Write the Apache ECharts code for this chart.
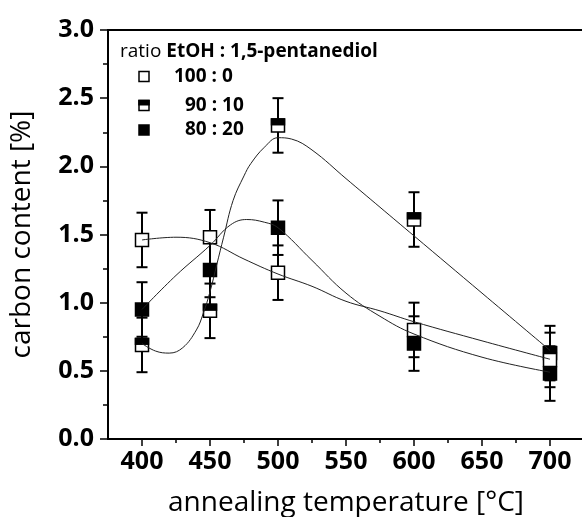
<!DOCTYPE html>
<html><head><meta charset="utf-8">
<script src="https://cdn.jsdelivr.net/npm/echarts@6/dist/echarts.min.js"></script>
<style>html,body{margin:0;padding:0;background:#fff}#c{width:582px;height:517px}</style>
</head><body><div id="c"></div>
<script>
// ---- data ----
const temperatures = [400, 450, 500, 600, 700];
const carbon100_0 = [1.46, 1.48, 1.22, 0.80, 0.58];
const carbon90_10 = [0.69, 0.94, 2.30, 1.61, 0.63];
const carbon80_20 = [0.95, 1.24, 1.55, 0.70, 0.48];
const err100_0 = [0.20, 0.20, 0.20, 0.20, 0.20];
const err90_10 = [0.20, 0.20, 0.20, 0.20, 0.20];
const err80_20 = [0.20, 0.20, 0.20, 0.20, 0.20];

const fitT100_0 = [400, 425, 450, 475, 500, 525, 550, 575, 600, 650, 700];
const fitV100_0 = [1.46, 1.48, 1.44, 1.32, 1.21, 1.12, 1.01, 0.94, 0.86, 0.72, 0.585];
const fitT90_10 = [400, 410, 420, 430, 440, 445, 450, 455, 460, 467, 475, 480, 490, 500, 510, 525, 550, 575, 600, 650, 700];
const fitV90_10 = [0.70, 0.645, 0.63, 0.67, 0.80, 0.92, 1.08, 1.28, 1.48, 1.75, 1.93, 2.02, 2.14, 2.21, 2.20, 2.12, 1.91, 1.70, 1.49, 1.07, 0.65];
const fitT80_20 = [400, 425, 450, 465, 477, 490, 500, 525, 550, 575, 600, 650, 700];
const fitV80_20 = [0.95, 1.20, 1.42, 1.57, 1.61, 1.59, 1.55, 1.31, 1.07, 0.90, 0.77, 0.60, 0.49];

const xMajorTicks = [400, 450, 500, 550, 600, 650, 700];
const xMinorTicks = [425, 475, 525, 575, 625, 675];
const legendTitleRegular = 'ratio ';
const legendTitleBold = 'EtOH : 1,5-pentanediol';
const legendLabels = ['100 : 0', '90 : 10', '80 : 20'];
const xName = 'annealing temperature [°C]';
const yName = 'carbon content [%]';

// ---- build ----
const FONT = '"Open Sans", "Noto Sans", sans-serif';
const zip = (a, b, c) => a.map((v, i) => c ? [v, b[i], c[i]] : [v, b[i]]);

function errRender(params, api) {
  const x = api.value(0), y = api.value(1), e = api.value(2);
  const t = api.coord([x, y + e]), b = api.coord([x, y - e]);
  const hw = 5.5;
  const style = { stroke: '#000', lineWidth: 2 };
  return { type: 'group', children: [
    { type: 'line', shape: { x1: t[0], y1: t[1], x2: b[0], y2: b[1] }, style },
    { type: 'line', shape: { x1: t[0] - hw, y1: t[1], x2: t[0] + hw, y2: t[1] }, style },
    { type: 'line', shape: { x1: b[0] - hw, y1: b[1], x2: b[0] + hw, y2: b[1] }, style }
  ]};
}
const errSeries = (vals, errs) => ({
  type: 'custom', renderItem: errRender, data: zip(temperatures, vals, errs),
  encode: { x: 0, y: 1 }, silent: true
});
const SQ = 13;
const fitLine = (t, v) => ({
  type: 'line', data: zip(t, v), smooth: 0.4, showSymbol: false, silent: true,
  lineStyle: { color: '#222', width: 1 }
});

const option = {
  animation: false,
  backgroundColor: '#fff',
  grid: { left: 108, top: 30, width: 476, height: 409, show: true, borderColor: '#000', borderWidth: 2,
    containLabel: false, outerBoundsMode: 'none' },
  xAxis: [{
    type: 'value', min: 375, max: 725,
    name: xName, nameLocation: 'middle', nameGap: 50,
    nameTextStyle: { fontFamily: FONT, fontSize: 28, color: '#000' },
    axisLine: { show: true, lineStyle: { color: '#000', width: 1.5 } },
    axisTick: { show: true, length: 7, lineStyle: { color: '#000', width: 1.5 }, customValues: xMajorTicks },
    axisLabel: { customValues: xMajorTicks, fontFamily: FONT, fontSize: 25, fontWeight: 'bold', color: '#000', margin: 10 },
    splitLine: { show: false }
  }, {
    type: 'value', min: 375, max: 725, position: 'bottom',
    axisLine: { show: false },
    axisTick: { show: true, length: 4, lineStyle: { color: '#000', width: 1.5 }, customValues: xMinorTicks },
    axisLabel: { show: false },
    splitLine: { show: false }
  }],
  yAxis: {
    type: 'value', min: 0, max: 3, interval: 0.5,
    name: yName, nameLocation: 'middle', nameGap: 72,
    nameTextStyle: { fontFamily: FONT, fontSize: 28, color: '#000' },
    axisLine: { show: true, lineStyle: { color: '#000', width: 1.5 } },
    axisTick: { show: true, length: 8, lineStyle: { color: '#000', width: 1.5 } },
    minorTick: { show: true, splitNumber: 2, length: 5, lineStyle: { color: '#000', width: 1.5 } },
    axisLabel: { fontFamily: FONT, fontSize: 25, fontWeight: 'bold', color: '#000', margin: 14,
      formatter: v => v.toFixed(1) },
    splitLine: { show: false }
  },
  series: [
    errSeries(carbon90_10, err90_10),
    errSeries(carbon100_0, err100_0),
    errSeries(carbon80_20, err80_20),
    { type: 'scatter', data: zip(temperatures, carbon90_10), symbol: 'rect', symbolSize: SQ, silent: true,
      itemStyle: { color: '#fff', borderColor: '#000', borderWidth: 1.5, opacity: 1 } },
    { type: 'scatter', data: zip(temperatures, carbon90_10), symbol: 'rect', symbolSize: [SQ + 1.5, 7.25],
      symbolOffset: [0, -3.6], silent: true, itemStyle: { color: '#000', opacity: 1 } },
    { type: 'scatter', data: zip(temperatures, carbon100_0), symbol: 'rect', symbolSize: SQ, silent: true,
      itemStyle: { color: '#fff', borderColor: '#000', borderWidth: 1.5, opacity: 1 } },
    { type: 'scatter', data: zip(temperatures, carbon80_20), symbol: 'rect', symbolSize: SQ, silent: true,
      itemStyle: { color: '#000', borderColor: '#000', borderWidth: 1.5, opacity: 1 } },
    fitLine(fitT100_0, fitV100_0),
    fitLine(fitT90_10, fitV90_10),
    fitLine(fitT80_20, fitV80_20)
  ],
  graphic: [
    { type: 'text', left: 120, top: 42, style: {
        text: '{r|' + legendTitleRegular + '}{b|' + legendTitleBold + '}',
        rich: {
          r: { fontFamily: FONT, fontSize: 19, color: '#000' },
          b: { fontFamily: FONT, fontSize: 19, fontWeight: 'bold', color: '#000' }
        } } },
    { type: 'rect', shape: { x: 139, y: 71.5, width: 10, height: 10 }, style: { fill: '#fff', stroke: '#000', lineWidth: 1.5 } },
    { type: 'rect', shape: { x: 139, y: 100.5, width: 10, height: 10 }, style: { fill: '#fff', stroke: '#000', lineWidth: 1.5 } },
    { type: 'rect', shape: { x: 138.25, y: 99.75, width: 11.5, height: 5.75 }, style: { fill: '#000' } },
    { type: 'rect', shape: { x: 139, y: 125, width: 10, height: 10 }, style: { fill: '#000', stroke: '#000', lineWidth: 1.5 } },
    { type: 'text', x: 174, y: 76.5, style: { text: legendLabels[0], fontFamily: FONT, fontSize: 19, fontWeight: 'bold', fill: '#000', verticalAlign: 'middle' } },
    { type: 'text', x: 185, y: 105.5, style: { text: legendLabels[1], fontFamily: FONT, fontSize: 19, fontWeight: 'bold', fill: '#000', verticalAlign: 'middle' } },
    { type: 'text', x: 185, y: 130, style: { text: legendLabels[2], fontFamily: FONT, fontSize: 19, fontWeight: 'bold', fill: '#000', verticalAlign: 'middle' } }
  ]
};
const chart = echarts.init(document.getElementById('c'), null, { renderer: 'canvas' });
chart.setOption(option);
</script></body></html>
